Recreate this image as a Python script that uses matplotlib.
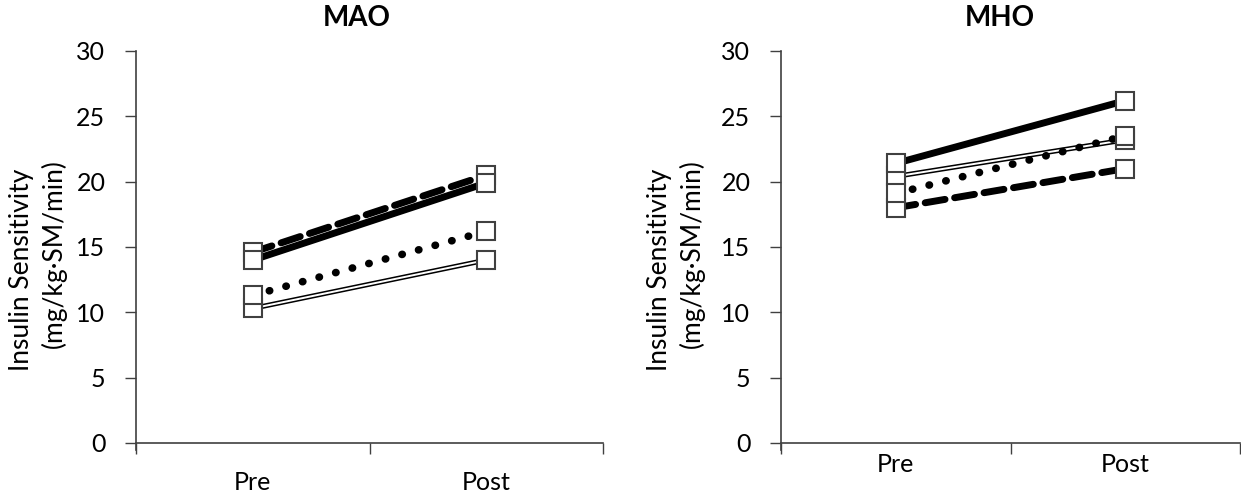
import matplotlib
matplotlib.use('Agg')
from matplotlib import pyplot as plt

phases = ['Pre', 'Post']

# MAO group
mao_double = [10.3, 14.0]
mao_dashed = [14.6, 20.5]
mao_solid = [14.0, 19.9]
mao_dotted = [11.3, 16.2]

# MHO group
mho_solid = [21.4, 26.2]
mho_double = [20.4, 23.2]
mho_dotted = [19.1, 23.5]
mho_dashed = [18.0, 21.0]

yticks = [0, 5, 10, 15, 20, 25, 30]
axis_col = '#404040'
plt.rcParams['font.family'] = ['Lato', 'DejaVu Sans']


def markers(ax, x, y, z):
    ax.plot(x, y, linestyle='none', marker='s', markersize=13,
            markerfacecolor='white', markeredgecolor=axis_col,
            markeredgewidth=1.5, zorder=z)


def panel(ax, double, dashed, solid, dotted, label_pad):
    x = [0.5, 1.5]
    # double line
    ax.plot(x, double, color='black', lw=3.6, solid_capstyle='butt', zorder=2)
    ax.plot(x, double, color='white', lw=1.4, solid_capstyle='butt', zorder=2.1)
    markers(ax, x, double, 2.2)
    # thick dashed
    ax.plot(x, dashed, color='black', lw=5, linestyle=(0, (2.9, 1.4)),
            dash_capstyle='round', zorder=3)
    markers(ax, x, dashed, 3.1)
    # thick solid
    ax.plot(x, solid, color='black', lw=5, zorder=4)
    markers(ax, x, solid, 4.1)
    # dotted
    ax.plot(x, dotted, color='black', lw=5.5, linestyle=(0, (0.05, 2.2)),
            dash_capstyle='round', zorder=5)
    markers(ax, x, dotted, 5.1)

    ax.set_xlim(0, 2)
    ax.set_ylim(0, 30)
    ax.set_yticks(yticks)
    ax.set_xticks([0, 1, 2])
    ax.set_xticklabels([])
    ax.set_xticks(x, minor=True)
    ax.set_xticklabels(phases, minor=True)
    ax.tick_params(axis='x', which='minor', length=0, pad=label_pad, labelsize=18)
    ax.tick_params(axis='x', which='major', direction='out', length=8,
                   color=axis_col, width=1)
    ax.tick_params(axis='y', direction='out', length=8, color=axis_col,
                   width=1, labelsize=18, pad=14)
    for s in ['top', 'right']:
        ax.spines[s].set_visible(False)
    for s in ['left', 'bottom']:
        ax.spines[s].set_color(axis_col)
        ax.spines[s].set_linewidth(1.2)
    ax.spines['left'].set_bounds(-0.5, 30)
    ax.spines['bottom'].set_clip_on(False)


fig = plt.figure(figsize=(12.41, 5.0), dpi=100)
ax1 = fig.add_axes([136 / 1241, 57 / 500, 467 / 1241, 392 / 500])
ax2 = fig.add_axes([781 / 1241, 57 / 500, 459 / 1241, 392 / 500])

panel(ax1, mao_double, mao_dashed, mao_solid, mao_dotted, 20)
panel(ax2, mho_double, mho_dashed, mho_solid, mho_dotted, 7)

fig.text(357 / 1241, 1 - 18 / 500, 'MAO', ha='center', va='center',
         fontsize=20, fontweight='bold')
fig.text(1000 / 1241, 1 - 18 / 500, 'MHO', ha='center', va='center',
         fontsize=20, fontweight='bold')

for x0 in [22, 660]:
    fig.text(x0 / 1241, 1 - 270 / 500, 'Insulin Sensitivity', rotation=90,
             ha='center', va='center', fontsize=19)
    fig.text((x0 + 32) / 1241, 1 - 254 / 500, '(mg/kg\u00b7SM/min)', rotation=90,
             ha='center', va='center', fontsize=19)

fig.savefig('out.png', dpi=100)
